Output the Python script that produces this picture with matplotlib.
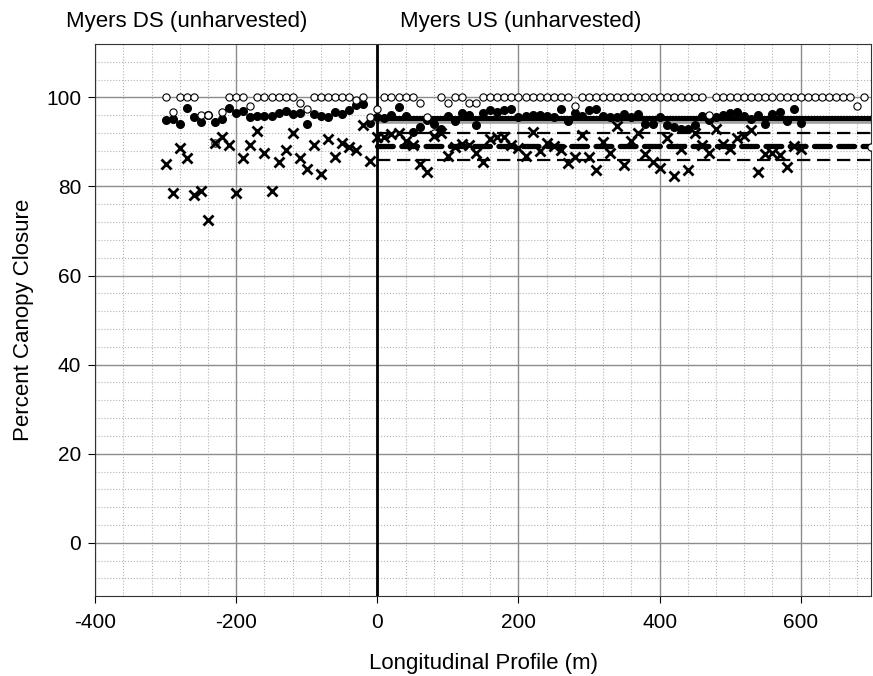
import matplotlib
matplotlib.use('Agg')
from matplotlib import pyplot as plt
from matplotlib.ticker import MultipleLocator

plt.rcParams['font.family'] = ['Liberation Sans', 'DejaVu Sans']
plt.rcParams['axes.unicode_minus'] = False

# stations (m) along the longitudinal profile
ds_dist = list(range(-300, 0, 10))
us_dist = list(range(0, 610, 10))
us_open_dist = list(range(0, 710, 10))

# downstream reach
ds_open = [100, 96.8, 100, 100, 100, 96.0, 96.0, 89.8, 96.8, 100,
           100, 100, 98.1, 100, 100, 100, 100, 100, 100, 98.7,
           97.4, 100, 100, 100, 100, 100, 100, 99.5, 100, 95.5]
ds_filled = [94.9, 95.2, 94.1, 97.6, 95.5, 94.5, 96.0, 94.4, 95.2, 97.7,
             96.4, 97.0, 95.5, 95.8, 95.8, 95.8, 96.4, 97.0, 96.2, 96.4,
             94.1, 96.2, 95.9, 95.6, 96.8, 96.2, 97.2, 98.3, 98.5, 94.3]
ds_cross = [85.1, 78.6, 88.7, 86.4, 78.0, 78.9, 72.5, 89.8, 91.2, 89.3,
            78.5, 86.4, 89.3, 92.5, 87.6, 79.0, 85.6, 88.2, 91.9, 86.3,
            83.9, 89.2, 82.9, 90.7, 86.6, 89.7, 88.8, 88.2, 93.8, 85.8]

# upstream reach
us_open = [97.4, 100, 100, 100, 100, 100, 98.7, 95.5, 91.9, 100,
           98.7, 100, 100, 98.7, 98.7, 100, 100, 100, 100, 100,
           100, 100, 100, 100, 100, 100, 100, 100, 98.1, 100,
           100, 100, 100, 100, 100, 100, 100, 100, 100, 100,
           100, 100, 100, 100, 100, 100, 100, 96.1, 100, 100,
           100, 100, 100, 100, 100, 100, 100, 100, 100, 100,
           100, 100, 100, 100, 100, 100, 100, 100, 98.1, 100,
           88.8]
us_filled = [95.5, 95.3, 96.0, 97.9, 95.9, 92.3, 93.4, 95.0, 94.0, 93.0,
             95.9, 94.7, 96.6, 96.0, 93.8, 96.4, 97.1, 96.8, 97.1, 97.4,
             95.5, 95.8, 96.0, 96.1, 95.8, 95.5, 97.4, 94.7, 96.6, 95.9,
             97.1, 97.4, 95.9, 95.7, 95.6, 96.2, 95.5, 96.2, 94.1, 94.1,
             95.6, 93.8, 93.4, 93.0, 92.8, 93.7, 95.9, 95.0, 95.5, 96.1,
             96.6, 96.8, 95.9, 95.1, 96.1, 94.0, 96.2, 96.8, 94.6, 97.4,
             94.3]
us_cross = [91.1, 91.0, 91.7, 92.1, 90.2, 89.3, 85.1, 83.3, 91.3, 92.1,
            86.8, 88.8, 89.6, 89.4, 87.6, 85.5, 90.6, 91.0, 91.1, 89.4,
            88.7, 86.8, 92.2, 87.9, 89.8, 89.1, 88.2, 85.3, 86.6, 91.6,
            86.6, 83.6, 90.0, 87.6, 93.6, 84.9, 90.2, 91.9, 87.2, 85.5,
            84.2, 90.8, 82.3, 88.5, 83.8, 91.9, 89.4, 87.6, 92.8, 89.6,
            88.5, 90.8, 91.3, 92.6, 83.3, 87.3, 87.6, 87.0, 84.3, 89.1,
            88.5]

# reference levels drawn across the upstream reach
us_range = [0, 700]
level_main = 95.3
level_gray = 94.4
level_upper = 92.0
level_mid = 89.0
level_lower = 86.0

fig = plt.figure(figsize=(8.73, 6.76), dpi=100)
ax = fig.add_axes([0.109, 0.118, 0.889, 0.817])

ax.plot(us_range, [level_gray] * 2, color='#a0a0a0', lw=2.6, zorder=2)
ax.plot(us_range, [level_main] * 2, color='black', lw=3.6, zorder=2)
ax.plot(us_range, [level_upper] * 2, color='black', lw=1.6, dashes=(6, 3), zorder=2)
ax.plot(us_range, [level_mid] * 2, color='black', lw=3.8, dashes=(3, 1.6),
        dash_capstyle='round', zorder=2)
ax.plot(us_range, [level_lower] * 2, color='black', lw=1.6, dashes=(6, 3), zorder=2)

ax.axvline(0, color='black', lw=2, zorder=2)

ax.plot(ds_dist, ds_filled, 'o', ms=5.5, color='black', zorder=3)
ax.plot(us_dist, us_filled, 'o', ms=5.5, color='black', zorder=3)
ax.plot(ds_dist, ds_open, 'o', ms=5.2, mfc='white', mec='black', mew=0.8, zorder=4)
ax.plot(us_open_dist, us_open, 'o', ms=5.2, mfc='white', mec='black', mew=0.8, zorder=4)
ax.plot(ds_dist, ds_cross, 'x', ms=6.5, mew=2.0, color='black', zorder=5)
ax.plot(us_dist, us_cross, 'x', ms=6.5, mew=2.0, color='black', zorder=5)

ax.set_xlim(-400, 700)
ax.set_ylim(-12, 112)
ax.xaxis.set_major_locator(MultipleLocator(200))
ax.xaxis.set_minor_locator(MultipleLocator(40))
ax.set_yticks([0, 20, 40, 60, 80, 100])
ax.yaxis.set_minor_locator(MultipleLocator(4))
ax.grid(which='major', color='#8c8c8c', lw=1, zorder=0)
ax.grid(which='minor', color='#b4b4b4', lw=0.8, ls=':', zorder=0)
ax.set_axisbelow(True)
ax.tick_params(axis='x', which='major', direction='out', length=5, pad=7, labelsize=15)
ax.tick_params(axis='y', which='major', direction='out', length=5, pad=5, labelsize=15)
ax.tick_params(which='minor', length=0)
for s in ax.spines.values():
    s.set_color('#333333')

ax.set_xlabel('Longitudinal Profile (m)', fontsize=16, labelpad=15)
ax.set_ylabel('Percent Canopy Closure', fontsize=16, labelpad=9)

fig.text(0.214, 0.968, 'Myers DS (unharvested)', fontsize=16, ha='center', va='center')
fig.text(0.596, 0.968, 'Myers US (unharvested)', fontsize=16, ha='center', va='center')

fig.savefig('out.png', dpi=100)
